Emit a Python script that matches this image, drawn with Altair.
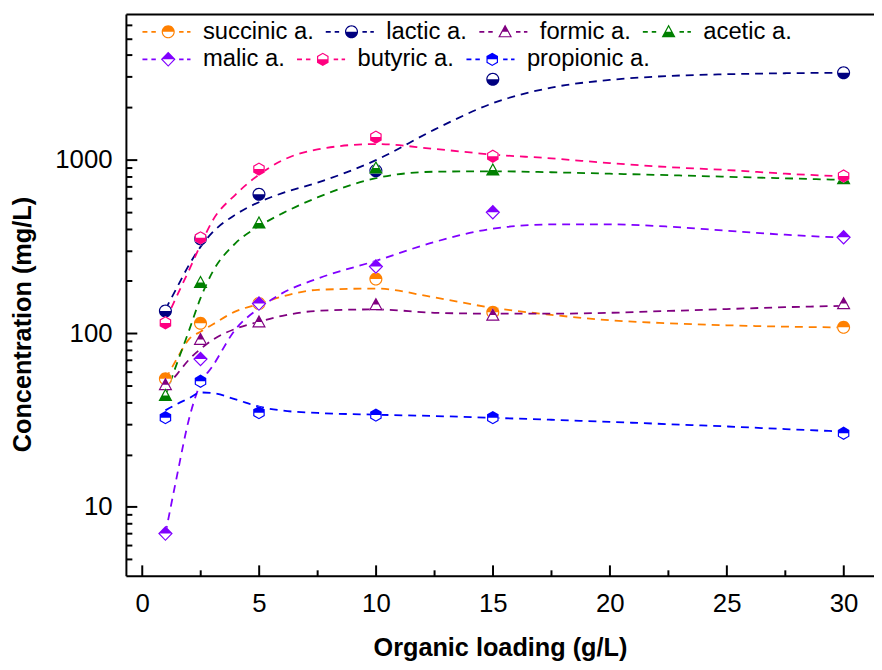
import math
import altair as alt
import pandas as pd

# ---------------- data ----------------
acids = ["succinic a.", "lactic a.", "formic a.", "acetic a.", "malic a.", "butyric a.", "propionic a."]
colors = ["#FF8000", "#000080", "#800080", "#008000", "#8000FF", "#FF0080", "#0000FF"]
shapes = ["circle", "circle", "triangle", "triangle", "diamond", "hexagon", "hexagon"]
halves = ["top", "bottom", "top", "bottom", "top", "bottom", "top"]

loading = [1, 2.5, 5, 10, 15, 30]
succinic = [54.6, 114, 148, 205, 132, 108]
lactic = [134, 350, 631, 862, 2900, 3160]
formic = [50.5, 92, 116, 146, 127, 148]
acetic = [43.7, 196, 431, 895, 870, 776]
malic = [7.0, 71, 148, 242, 497, 357]
butyric = [114.5, 354, 881, 1348, 1045, 804]
propionic = [32.6, 52.8, 34.8, 33.7, 32.6, 26.5]

fit_loading = [1, 1.5, 2, 2.5, 3, 4, 5, 6, 7.5, 10, 12.5, 15, 17.5, 20, 22.5, 25, 27.5, 30]
fit_succinic = [54.1, 71.5, 92.0, 102.0, 111.8, 133.5, 147.0, 162.6, 177.6, 180.6, 160.5, 139.8, 127.5, 118.6, 114.0, 111.0, 109.0, 107.8]
fit_lactic = [137, 184, 246, 314, 379, 482, 568, 641, 736, 992, 1487, 2112, 2598, 2875, 3030, 3102, 3143, 3164]
fit_formic = [48.3, 58.1, 70.2, 81.0, 91.2, 106.0, 116.3, 125.8, 134.4, 137.0, 131.0, 129.5, 129.5, 131.0, 134.2, 137.6, 141.1, 143.5]
fit_acetic = [43.5, 67.4, 102.7, 159, 223, 330, 413, 490, 605, 781, 851, 856, 845, 829, 813, 796, 780, 763]
fit_malic = [6.98, 15.2, 31.7, 51.2, 64.0, 105.4, 139, 170, 206, 261, 335, 400, 423, 423, 411, 389, 369, 355]
fit_butyric = [118, 165, 229, 322, 441, 629, 818, 990, 1144, 1229, 1152, 1068, 1016, 954, 905, 871, 829, 800]
fit_propionic = [35.9, 39.1, 42.1, 45.5, 45.2, 41.5, 37.7, 35.8, 34.7, 33.9, 33.3, 32.5, 31.7, 30.8, 29.9, 29.0, 28.0, 27.1]

x_major = [0, 5, 10, 15, 20, 25, 30]
x_minor = [2.5, 7.5, 12.5, 17.5, 22.5, 27.5]
y_major = [10, 100, 1000]
y_minor = [5, 6, 7, 8, 9, 20, 30, 40, 50, 60, 70, 80, 90,
           200, 300, 400, 500, 600, 700, 800, 900, 2000, 3000, 4000, 5000, 6000]

point_series = [succinic, lactic, formic, acetic, malic, butyric, propionic]
fit_series = [fit_succinic, fit_lactic, fit_formic, fit_acetic, fit_malic, fit_butyric, fit_propionic]

pts_df = pd.DataFrame([{"acid": a, "x": xv, "y": yv}
                       for a, s in zip(acids, point_series) for xv, yv in zip(loading, s)])
fit_df = pd.DataFrame([{"acid": a, "x": xv, "y": yv}
                       for a, s in zip(acids, fit_series) for xv, yv in zip(fit_loading, s)])

# ---------------- styling ----------------
W, H = 755, 567
FONT = "Liberation Sans"
S = 174                 # marker area
T = 0.18                # ring thickness in symbol units
U = math.sqrt(S) / 2    # pixels per symbol unit


def num(v):
    s = f"{v:.4f}".rstrip("0").rstrip(".")
    return "0" if s in ("-0", "") else s


def poly(pts):
    return "M" + "L".join(f"{num(x)},{num(y)}" for x, y in pts) + "Z"


def inset(pts, t):
    n = len(pts)
    lines = []
    for i in range(n):
        p, q = pts[i], pts[(i + 1) % n]
        dx, dy = q[0] - p[0], q[1] - p[1]
        L = math.hypot(dx, dy)
        nx, ny = -dy / L, dx / L
        lines.append(((p[0] + t * nx, p[1] + t * ny), (dx, dy)))
    out = []
    for i in range(n):
        (p1, d1), (p2, d2) = lines[i - 1], lines[i]
        det = d1[0] * (-d2[1]) - d1[1] * (-d2[0])
        rx, ry = p2[0] - p1[0], p2[1] - p1[1]
        s = (rx * (-d2[1]) - ry * (-d2[0])) / det
        out.append((p1[0] + s * d1[0], p1[1] + s * d1[1]))
    return out


def clip_half(pts, top):
    def inside(p):
        return p[1] <= 1e-9 if top else p[1] >= -1e-9

    def cut(a, b):
        t = a[1] / (a[1] - b[1])
        return (a[0] + t * (b[0] - a[0]), 0.0)

    out = []
    n = len(pts)
    for i in range(n):
        cur, prev = pts[i], pts[i - 1]
        if inside(cur):
            if not inside(prev):
                out.append(cut(prev, cur))
            out.append(cur)
        elif inside(prev):
            out.append(cut(prev, cur))
    return out


BASE = {
    "triangle": [(0, -1.1), (1.06, 0.85), (-1.06, 0.85)],
    "diamond": [(0, -1.15), (1.12, 0), (0, 1.15), (-1.12, 0)],
    "hexagon": [(1.02 * math.cos(math.radians(a)), 1.02 * math.sin(math.radians(a)))
                for a in (-90, -30, 30, 90, 150, 210)],
}


def marker(shape, half):
    if shape == "circle":
        r, ri = 1.0, 1.0 - T
        outer = f"M{r},0A{r},{r} 0 1,1 -{r},0A{r},{r} 0 1,1 {r},0Z"
        inner = f"M{ri},0A{ri},{ri} 0 1,0 -{ri},0A{ri},{ri} 0 1,0 {ri},0Z"
        if half == "top":
            hp = f"M-{r},0A{r},{r} 0 0,1 {r},0Z"
        else:
            hp = f"M{r},0A{r},{r} 0 0,1 -{r},0Z"
        return outer, outer + inner + hp
    pts = BASE[shape]
    outer = poly(pts)
    inner = poly(list(reversed(inset(pts, T))))
    hp = poly(clip_half(pts, half == "top"))
    return outer, outer + inner + hp


dash_px = [(-26, -21), (-17, -12.5), (11, 15.5), (19, 22.5)]
hw = 0.9 / U
dashes = "".join(poly([(a / U, -hw), (b / U, -hw), (b / U, hw), (a / U, hw)]) for a, b in dash_px)

marker_paths = [marker(sh, hf) for sh, hf in zip(shapes, halves)]
legend_paths = [dashes + fg for _, fg in marker_paths]

xs = alt.Scale(domain=[-0.69, 31.3], nice=False, zero=False)
ys = alt.Scale(type="log", domain=[4, 6900], nice=False)

main_x_axis = alt.Axis(
    orient="bottom", values=x_major, ticks=False, tickSize=0, grid=False,
    domain=True, domainColor="black", domainWidth=2,
    labelFont=FONT, labelFontSize=26, labelColor="black", labelPadding=15,
    labelFlush=False, labelOverlap=False,
    title="Organic loading (g/L)", titleFont=FONT, titleFontSize=25.5,
    titleFontWeight="bold", titleColor="black", titleX=W / 2, titleY=80.7,
    titleAlign="center", titleBaseline="alphabetic")
main_y_axis = alt.Axis(
    orient="left", values=y_major, format="d", ticks=False, tickSize=0, grid=False,
    domain=True, domainColor="black", domainWidth=2,
    labelFont=FONT, labelFontSize=26, labelColor="black", labelPadding=14,
    labelFlush=False, labelOverlap=False,
    title="Concentration (mg/L)", titleFont=FONT, titleFontSize=25.5,
    titleFontWeight="bold", titleColor="black", titleAngle=270,
    titleX=-96.5, titleY=313, titleAlign="center", titleBaseline="alphabetic")

layers = []

# dashed fit curves, one layer per acid (constant colour, no scale / legend)
for i, (a, c) in enumerate(zip(acids, colors)):
    base = alt.Chart(fit_df).transform_filter(alt.datum.acid == a)
    layers.append(base.mark_line(
        color=c, strokeDash=[8, 6], strokeWidth=1.8, interpolate="monotone"
    ).encode(
        x=alt.X("x:Q", scale=xs, axis=main_x_axis if i == 0 else None),
        y=alt.Y("y:Q", scale=ys, axis=main_y_axis if i == 0 else None),
    ))

empty = alt.Chart(pts_df).transform_filter("false")

major_ticks = empty.mark_point(opacity=0).encode(
    x=alt.X("x:Q", scale=xs, axis=alt.Axis(
        orient="top", offset=-H, values=x_major, labels=False, domain=False, grid=False,
        ticks=True, tickSize=11, tickWidth=2, tickColor="black", title=None)),
    y=alt.Y("y:Q", scale=ys, axis=alt.Axis(
        orient="right", offset=-W, values=y_major, labels=False, domain=False, grid=False,
        ticks=True, tickSize=11, tickWidth=2, tickColor="black", title=None)),
)

minor_ticks = empty.mark_point(opacity=0).encode(
    x=alt.X("x:Q", scale=xs, axis=alt.Axis(
        orient="top", offset=-H, values=x_minor, labels=False, domain=False, grid=False,
        ticks=True, tickSize=6, tickWidth=2, tickColor="black", title=None)),
    y=alt.Y("y:Q", scale=ys, axis=alt.Axis(
        orient="right", offset=-W, values=y_minor, labels=False, domain=False, grid=False,
        ticks=True, tickSize=6, tickWidth=2, tickColor="black", title=None)),
)

top_frame = empty.mark_point(opacity=0).encode(
    x=alt.X("x:Q", scale=xs, axis=alt.Axis(
        orient="top", offset=0, values=x_major, labels=False, ticks=False, grid=False,
        domain=True, domainColor="black", domainWidth=2, title=None)),
    y=alt.Y("y:Q", scale=ys, axis=None),
)

layers += [major_ticks, minor_ticks, top_frame]

# two single-row legends (rows of the reference legend), each from its own layer
legend_rows = [(0, 4, 6), (4, 7, 33.8)]
for lo, hi, ly in legend_rows:
    row_acids = acids[lo:hi]
    leg = alt.Legend(
        title=None, orient="none", legendX=12, legendY=ly, direction="horizontal",
        symbolSize=S, symbolStrokeWidth=0, symbolOpacity=1, symbolOffset=18.7,
        labelOffset=23, labelFont=FONT, labelFontSize=24, labelColor="black",
        columnPadding=7, padding=0,
    )
    layers.append(
        alt.Chart(pts_df).transform_filter(alt.FieldOneOfPredicate(field="acid", oneOf=row_acids))
        .mark_point(filled=True, opacity=1, size=0, strokeWidth=0).encode(
            x=alt.X("x:Q", scale=xs, axis=None),
            y=alt.Y("y:Q", scale=ys, axis=None),
            color=alt.Color("acid:N", scale=alt.Scale(domain=row_acids, range=colors[lo:hi]), legend=leg),
            shape=alt.Shape("acid:N", scale=alt.Scale(domain=row_acids, range=legend_paths[lo:hi]), legend=leg),
        )
    )

for a, c, (bg, fg) in zip(acids, colors, marker_paths):
    base = alt.Chart(pts_df).transform_filter(alt.datum.acid == a)
    enc = dict(x=alt.X("x:Q", scale=xs, axis=None), y=alt.Y("y:Q", scale=ys, axis=None))
    layers.append(base.mark_point(shape=bg, size=S, filled=True, fill="white",
                                  opacity=1, strokeWidth=0).encode(**enc))
    layers.append(base.mark_point(shape=fg, size=S, filled=True, fill=c,
                                  opacity=1, strokeWidth=0).encode(**enc))

chart = alt.layer(*layers).resolve_axis(
    x="independent", y="independent"
).resolve_scale(
    color="independent", shape="independent"
).properties(
    width=W, height=H,
    autosize=alt.AutoSizeParams(type="none"),
    padding={"left": 119, "top": 3, "right": 0, "bottom": 84},
    background="white",
).configure_view(stroke=None)

chart.save("out.html", embed_options={"renderer": "svg", "actions": False})
